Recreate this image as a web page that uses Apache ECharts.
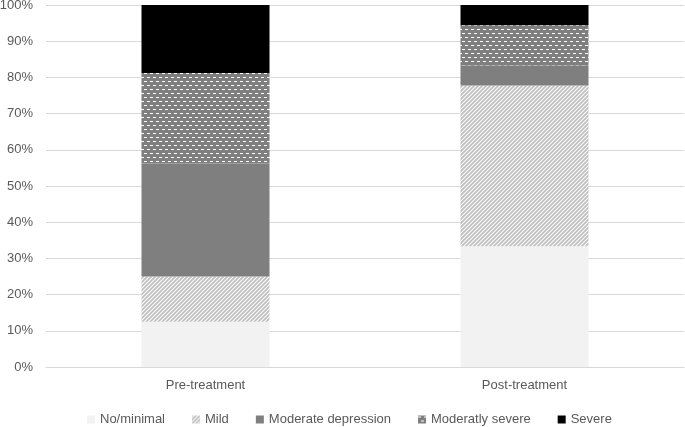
<!DOCTYPE html>
<html><head><meta charset="utf-8">
<script src="https://cdn.jsdelivr.net/npm/echarts@6/dist/echarts.min.js"></script>
<style>html,body{margin:0;padding:0;background:#fff}#c{width:685px;height:427px}</style>
</head><body><div id="c"></div>
<script>
var categories = ['Pre-treatment', 'Post-treatment'];
var seriesNames = ['No/minimal', 'Mild', 'Moderate depression', 'Moderatly severe', 'Severe'];
var noMinimal = [12.5, 33.33];
var mild = [12.5, 44.44];
var moderate = [31.25, 5.56];
var modSevere = [25, 11.11];
var severe = [18.75, 5.56];
var yTicks = [0, 10, 20, 30, 40, 50, 60, 70, 80, 90, 100];

function stripePattern() {
  var c = document.createElement('canvas'); c.width = 4; c.height = 4;
  var g = c.getContext('2d');
  g.fillStyle = '#ffffff'; g.fillRect(0, 0, 4, 4);
  g.strokeStyle = '#bfbfbf'; g.lineWidth = 1.8;
  g.beginPath();
  g.moveTo(-1, 5); g.lineTo(5, -1);
  g.moveTo(-1, 1); g.lineTo(1, -1);
  g.moveTo(3, 5); g.lineTo(5, 3);
  g.stroke();
  return c;
}
function brickPattern() {
  var c = document.createElement('canvas'); c.width = 6; c.height = 8;
  var g = c.getContext('2d');
  g.fillStyle = '#7f7f7f'; g.fillRect(0, 0, 6, 8);
  g.fillStyle = '#ffffff';
  g.fillRect(0, 1, 3, 1);
  g.fillRect(3, 5, 3, 1);
  return c;
}
var colors = ['#f2f2f2', {image: stripePattern(), repeat: 'repeat'}, '#7f7f7f', {image: brickPattern(), repeat: 'repeat'}, '#000000'];
var dataSets = [noMinimal, mild, moderate, modSevere, severe];

var chart = echarts.init(document.getElementById('c'), null, {renderer: 'canvas'});
var font = 'Liberation Sans';
chart.setOption({
  animation: false,
  textStyle: {fontFamily: font},
  grid: {left: 46, right: 1, top: 5, bottom: 60, containLabel: false, outerBoundsMode: 'none'},
  legend: {
    top: 408, left: 82, itemWidth: 8, itemHeight: 8, itemGap: 27,
    icon: 'rect',
    textStyle: {color: '#595959', fontSize: 13, fontFamily: font},
    data: seriesNames
  },
  xAxis: {
    type: 'category', data: categories,
    axisLine: {lineStyle: {color: '#d9d9d9'}},
    axisTick: {show: false},
    axisLabel: {color: '#595959', fontSize: 13, margin: 12, fontFamily: font}
  },
  yAxis: {
    type: 'value', min: 0, max: 100, interval: 10,
    axisLabel: {color: '#595959', fontSize: 13, formatter: function (v) { return yTicks.indexOf(v) >= 0 ? v + '%' : ''; }, margin: 13, fontFamily: font},
    splitLine: {lineStyle: {color: '#d9d9d9'}},
    axisLine: {show: false}, axisTick: {show: false}
  },
  series: seriesNames.map(function (n, i) {
    return {
      name: n, type: 'bar', stack: 'a', data: dataSets[i], barWidth: 128,
      itemStyle: {color: colors[i]}
    };
  })
});
</script></body></html>
